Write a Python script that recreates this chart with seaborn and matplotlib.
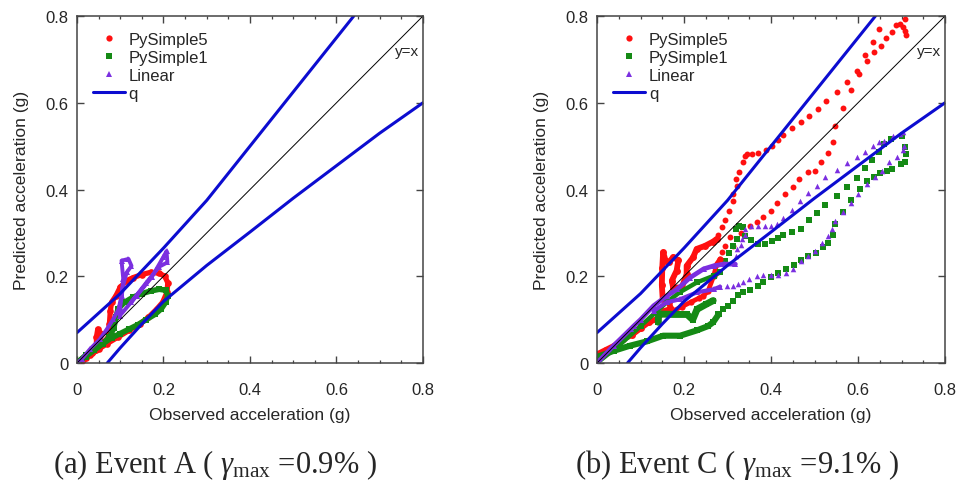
import matplotlib
matplotlib.use("Agg")
import matplotlib.pyplot as plt
from matplotlib.lines import Line2D
from matplotlib.ticker import MultipleLocator, FuncFormatter
import seaborn as sns

# --- q bounds (same for both events) ---
q_up_x = [0.0, 0.1, 0.2, 0.3, 0.4, 0.5, 0.6, 0.64]
q_up_y = [0.07, 0.16, 0.265, 0.375, 0.5, 0.625, 0.75, 0.8]
q_lo_x = [0.07, 0.1, 0.15, 0.2, 0.3, 0.4, 0.5, 0.6, 0.7, 0.8]
q_lo_y = [0.0, 0.035, 0.09, 0.142, 0.225, 0.302, 0.38, 0.455, 0.53, 0.6]

# --- Event A: dense loops ---
a_py5_x = [0.0, 0.02, 0.035, 0.045, 0.045, 0.048, 0.053, 0.056, 0.065, 0.075, 0.075, 0.077, 0.08, 0.09,
           0.1, 0.115, 0.13, 0.15, 0.17, 0.19, 0.203, 0.21, 0.208, 0.198, 0.185, 0.165, 0.145, 0.12,
           0.095, 0.07, 0.05, 0.03, 0.015, 0.0]
a_py5_y = [0.0, 0.012, 0.022, 0.03, 0.06, 0.078, 0.07, 0.045, 0.05, 0.065, 0.09, 0.12, 0.14, 0.155,
           0.175, 0.19, 0.197, 0.204, 0.209, 0.207, 0.2, 0.185, 0.163, 0.14, 0.125, 0.105, 0.09, 0.075,
           0.06, 0.045, 0.032, 0.018, 0.008, 0.0]
a_py1_x = [0.0, 0.02, 0.04, 0.06, 0.075, 0.085, 0.09, 0.095, 0.11, 0.13, 0.15, 0.17, 0.19, 0.205,
           0.21, 0.205, 0.195, 0.18, 0.16, 0.14, 0.12, 0.1, 0.08, 0.06, 0.04, 0.02, 0.0]
a_py1_y = [0.0, 0.015, 0.03, 0.045, 0.06, 0.08, 0.105, 0.125, 0.14, 0.152, 0.16, 0.166, 0.17, 0.168,
           0.155, 0.14, 0.125, 0.112, 0.1, 0.088, 0.078, 0.068, 0.058, 0.045, 0.032, 0.018, 0.0]
a_lin_x = [0.0, 0.011, 0.03, 0.053, 0.069, 0.084, 0.096, 0.103, 0.107, 0.103, 0.119, 0.126, 0.115,
           0.107, 0.1, 0.099, 0.138, 0.173, 0.2, 0.207, 0.209, 0.19, 0.16, 0.125]
a_lin_y = [0.0, 0.009, 0.032, 0.055, 0.078, 0.101, 0.124, 0.155, 0.194, 0.236, 0.24, 0.224, 0.209,
           0.18, 0.13, 0.109, 0.155, 0.198, 0.245, 0.258, 0.232, 0.222, 0.185, 0.14]

# --- Event C: dense parts ---
c_py5_x = [0.0, 0.02, 0.04, 0.06, 0.08, 0.1, 0.12, 0.137, 0.155, 0.17, 0.165, 0.151, 0.149, 0.15,
           0.152, 0.158, 0.165, 0.175, 0.187, 0.183, 0.172, 0.175, 0.195, 0.206, 0.206, 0.221, 0.229,
           0.248, 0.267, 0.275]
c_py5_y = [0.02, 0.03, 0.04, 0.055, 0.065, 0.08, 0.095, 0.101, 0.12, 0.125, 0.14, 0.148, 0.18, 0.22,
           0.255, 0.235, 0.232, 0.244, 0.237, 0.213, 0.19, 0.174, 0.174, 0.205, 0.224, 0.244, 0.263,
           0.27, 0.28, 0.286]
c_py5b_x = [0.283, 0.275, 0.268, 0.255, 0.244, 0.235, 0.215, 0.195, 0.175]
c_py5b_y = [0.24, 0.228, 0.2, 0.165, 0.155, 0.15, 0.14, 0.13, 0.12]
c_py1_x = [0.0, 0.038, 0.076, 0.115, 0.152, 0.191, 0.229, 0.255, 0.267, 0.28]
c_py1_y = [0.014, 0.028, 0.04, 0.05, 0.063, 0.063, 0.075, 0.085, 0.094, 0.113]
c_py1b_x = [0.141, 0.141, 0.175, 0.207, 0.22, 0.23, 0.25, 0.267]
c_py1b_y = [0.094, 0.113, 0.112, 0.112, 0.1, 0.124, 0.135, 0.144]
c_py1c_x = [0.0, 0.05, 0.1, 0.16, 0.19, 0.23, 0.268, 0.283]
c_py1c_y = [0.0, 0.04, 0.085, 0.14, 0.163, 0.186, 0.201, 0.209]
c_lin_x = [0.0, 0.038, 0.077, 0.084, 0.1, 0.13, 0.161, 0.184, 0.214, 0.245, 0.268, 0.291, 0.318]
c_lin_y = [0.0, 0.04, 0.078, 0.085, 0.1, 0.132, 0.155, 0.17, 0.197, 0.217, 0.224, 0.228, 0.228]
c_linb_x = [0.13, 0.16, 0.191, 0.23, 0.268, 0.283]
c_linb_y = [0.12, 0.14, 0.147, 0.163, 0.17, 0.176]

# --- Event C: sparse points ---
c_py5_px = [0.279, 0.287, 0.294, 0.304, 0.312, 0.313, 0.321, 0.320, 0.327, 0.336, 0.340, 0.345, 0.356,
            0.371, 0.389, 0.402, 0.417, 0.428, 0.448, 0.468, 0.487, 0.507, 0.526, 0.551, 0.574, 0.597,
            0.602, 0.616, 0.620, 0.634, 0.637, 0.653, 0.649, 0.664, 0.677, 0.687, 0.697, 0.703, 0.708,
            0.708, 0.710,
            0.583, 0.566, 0.547, 0.542, 0.530, 0.514, 0.501, 0.484, 0.465, 0.450, 0.432, 0.414, 0.400,
            0.382, 0.367, 0.352, 0.330, 0.306, 0.313, 0.294, 0.288]
c_py5_py = [0.295, 0.313, 0.330, 0.351, 0.374, 0.390, 0.409, 0.424, 0.441, 0.463, 0.478, 0.482, 0.482,
            0.484, 0.492, 0.501, 0.515, 0.526, 0.541, 0.555, 0.570, 0.586, 0.605, 0.624, 0.647, 0.674,
            0.666, 0.710, 0.697, 0.739, 0.718, 0.730, 0.771, 0.749, 0.764, 0.779, 0.782, 0.774, 0.792,
            0.766, 0.756,
            0.630, 0.587, 0.547, 0.510, 0.484, 0.464, 0.443, 0.440, 0.424, 0.405, 0.390, 0.369, 0.351,
            0.336, 0.326, 0.317, 0.300, 0.290, 0.270, 0.270, 0.255]
c_py1_px = [0.700, 0.675, 0.660, 0.648, 0.632, 0.617, 0.598, 0.575, 0.551, 0.524, 0.505, 0.488, 0.468,
            0.448, 0.428, 0.415, 0.402, 0.386, 0.371, 0.354, 0.340, 0.336, 0.327, 0.320, 0.321, 0.313,
            0.304, 0.295,
            0.708, 0.710, 0.708, 0.698, 0.677, 0.666, 0.651, 0.636, 0.620, 0.605, 0.585, 0.566, 0.547,
            0.542, 0.532, 0.519, 0.503, 0.486, 0.470, 0.453, 0.434, 0.417, 0.399, 0.382, 0.369, 0.352,
            0.336, 0.325, 0.312, 0.302, 0.290, 0.279]
c_py1_py = [0.524, 0.516, 0.505, 0.487, 0.468, 0.449, 0.426, 0.405, 0.384, 0.364, 0.347, 0.330, 0.310,
            0.303, 0.296, 0.288, 0.281, 0.274, 0.274, 0.284, 0.293, 0.313, 0.315, 0.309, 0.286, 0.269,
            0.254, 0.236,
            0.497, 0.481, 0.463, 0.459, 0.447, 0.443, 0.439, 0.430, 0.420, 0.401, 0.377, 0.349, 0.320,
            0.295, 0.277, 0.267, 0.254, 0.246, 0.237, 0.226, 0.217, 0.207, 0.199, 0.187, 0.177, 0.168,
            0.163, 0.157, 0.144, 0.132, 0.125, 0.113]
c_lin_px = [0.703, 0.697, 0.681, 0.660, 0.649, 0.634, 0.616, 0.597, 0.574, 0.551, 0.524, 0.505, 0.486,
            0.467, 0.448, 0.427, 0.414, 0.399, 0.386, 0.371, 0.353, 0.340, 0.340, 0.333, 0.330, 0.321,
            0.319,
            0.706, 0.703, 0.690, 0.672, 0.654, 0.638, 0.620, 0.601, 0.583, 0.566, 0.546, 0.540, 0.530,
            0.517, 0.501, 0.484, 0.469, 0.451, 0.434, 0.417, 0.399, 0.382, 0.367, 0.350, 0.336, 0.325,
            0.313, 0.298]
c_lin_py = [0.532, 0.528, 0.523, 0.513, 0.509, 0.500, 0.487, 0.474, 0.461, 0.446, 0.428, 0.409, 0.392,
            0.374, 0.353, 0.334, 0.320, 0.315, 0.317, 0.317, 0.317, 0.310, 0.295, 0.286, 0.272, 0.263,
            0.247,
            0.501, 0.490, 0.475, 0.463, 0.443, 0.430, 0.413, 0.390, 0.369, 0.349, 0.328, 0.310, 0.293,
            0.277, 0.259, 0.247, 0.236, 0.217, 0.207, 0.204, 0.204, 0.203, 0.201, 0.194, 0.186, 0.182,
            0.178, 0.177]

labels = ["PySimple5", "PySimple1", "Linear", "q"]
captions = ["(a) Event A ( $\\gamma_{\\mathrm{max}}$ =0.9% )", "(b) Event C ( $\\gamma_{\\mathrm{max}}$ =9.1% )"]

RED, GREEN, PURPLE, BLUE = "#ff1010", "#158a15", "#7b2fe0", "#0c0cd0"

sns.set_style("ticks")
plt.rcParams["font.family"] = ["Liberation Sans", "DejaVu Sans"]
plt.rcParams["mathtext.fontset"] = "custom"
plt.rcParams["mathtext.rm"] = "Liberation Serif"
plt.rcParams["mathtext.it"] = "Liberation Serif:italic"

fig = plt.figure(figsize=(9.6, 4.81), dpi=100)
axA = fig.add_axes([0.0802, 0.2432, 0.3604, 0.7214])
axC = fig.add_axes([0.6219, 0.2432, 0.3625, 0.7214])


def dense(ax, x, y, color, lw, marker, ms):
    sns.lineplot(x=x, y=y, sort=False, estimator=None, ax=ax, color=color, lw=lw,
                 marker=marker, markersize=ms, markeredgewidth=0)


def style_axes(ax):
    ax.set_xlim(0, 0.8)
    ax.set_ylim(0, 0.8)
    ax.xaxis.set_major_locator(MultipleLocator(0.2))
    ax.xaxis.set_minor_locator(MultipleLocator(0.05))
    ax.yaxis.set_major_locator(MultipleLocator(0.2))
    fmt = FuncFormatter(lambda v, p: "0" if abs(v) < 1e-9 else f"{v:.1f}")
    ax.xaxis.set_major_formatter(fmt)
    ax.yaxis.set_major_formatter(fmt)
    ax.tick_params(which="both", direction="in", top=True, right=True, color="#444444")
    ax.tick_params(which="major", length=5, width=1.0, labelsize=12)
    ax.tick_params(axis="x", which="major", pad=14)
    ax.tick_params(axis="y", which="major", pad=6)
    ax.tick_params(which="minor", length=2.5, width=0.9)
    for s in ax.spines.values():
        s.set_color("#444444")
        s.set_linewidth(1.1)
    ax.set_xlabel("Observed acceleration (g)", fontsize=12.6, labelpad=7)
    ax.set_ylabel("Predicted acceleration (g)", fontsize=12.6, labelpad=12)
    # y=x and q bounds
    sns.lineplot(x=[0, 0.8], y=[0, 0.8], ax=ax, color="black", lw=0.7)
    sns.lineplot(x=q_up_x, y=q_up_y, sort=False, estimator=None, ax=ax, color=BLUE, lw=2.2)
    sns.lineplot(x=q_lo_x, y=q_lo_y, sort=False, estimator=None, ax=ax, color=BLUE, lw=2.2)
    ax.text(0.79, 0.72, "y=x", ha="right", va="center", fontsize=11)
    handles = [
        Line2D([], [], ls="", marker="o", color=RED, markersize=4.5, markeredgewidth=0),
        Line2D([], [], ls="", marker="s", color=GREEN, markersize=4, markeredgewidth=0),
        Line2D([], [], ls="", marker="^", color=PURPLE, markersize=4, markeredgewidth=0),
        Line2D([], [], color=BLUE, lw=2.2),
    ]
    ax.legend(handles, labels, loc="upper left", bbox_to_anchor=(0.046, 0.955), frameon=False,
              fontsize=12, borderpad=0, borderaxespad=0, handlelength=1.9, handletextpad=0.25,
              labelspacing=0.18)


# Event A
dense(axA, a_py5_x, a_py5_y, RED, 3.8, "o", 4.8)
dense(axA, a_py1_x, a_py1_y, GREEN, 4.0, "s", 4.4)
dense(axA, a_lin_x, a_lin_y, PURPLE, 2.8, "^", 4.2)
style_axes(axA)

# Event C
dense(axC, c_py5_x, c_py5_y, RED, 4.2, "o", 5.0)
dense(axC, c_py5b_x, c_py5b_y, RED, 3.4, "o", 4.5)
dense(axC, c_py1_x, c_py1_y, GREEN, 4.4, "s", 4.6)
dense(axC, c_py1b_x, c_py1b_y, GREEN, 5.0, "s", 4.6)
dense(axC, c_py1c_x, c_py1c_y, GREEN, 3.2, "s", 4.0)
dense(axC, c_lin_x, c_lin_y, PURPLE, 3.4, "^", 4.2)
dense(axC, c_linb_x, c_linb_y, PURPLE, 3.0, "^", 4.2)
sns.scatterplot(x=c_py5_px, y=c_py5_py, ax=axC, color=RED, marker="o", s=18, linewidth=0)
sns.scatterplot(x=c_py1_px, y=c_py1_py, ax=axC, color=GREEN, marker="s", s=16, linewidth=0)
sns.scatterplot(x=c_lin_px, y=c_lin_py, ax=axC, color=PURPLE, marker="^", s=16, linewidth=0)
style_axes(axC)

fig.text(0.0556, 0.0166, captions[0], fontsize=22, family="Liberation Serif", va="baseline")
fig.text(0.599, 0.0166, captions[1], fontsize=22, family="Liberation Serif", va="baseline")

fig.savefig("out.png", dpi=100)
